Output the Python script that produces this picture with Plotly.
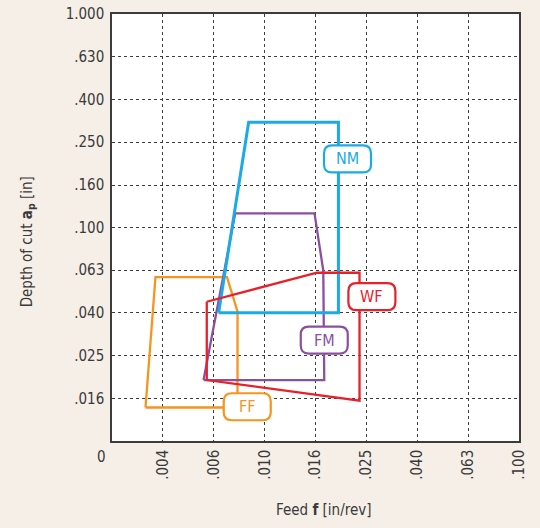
import numpy as np
import plotly.graph_objects as go

# Axis grids (R5 preferred numbers) and the rounded labels printed on them
feed_tick_vals = [0.00398, 0.00631, 0.0100, 0.0158, 0.0251, 0.0398, 0.0631, 0.100]
feed_tick_text = [".004", ".006", ".010", ".016", ".025", ".040", ".063", ".100"]
depth_tick_vals = [0.0158, 0.0251, 0.0398, 0.0631, 0.100, 0.158, 0.251, 0.398, 0.631, 1.0]
depth_tick_text = [".016", ".025", ".040", ".063", ".100", ".160", ".250", ".400", ".630", "1.000"]

# Application areas of the chipbreakers: feed [in/rev] and depth of cut [in]
ff_feed = [0.0034, 0.00372, 0.00711, 0.00782, 0.00782, 0.0034]
ff_depth = [0.01435, 0.0586, 0.0586, 0.0403, 0.01435, 0.01435]

fm_feed = [0.00575, 0.00766, 0.0157, 0.0170, 0.01715, 0.00575]
fm_depth = [0.0193, 0.1165, 0.1165, 0.0628, 0.0193, 0.0193]

nm_feed = [0.00659, 0.00865, 0.0195, 0.0195, 0.00659]
nm_depth = [0.0399, 0.311, 0.311, 0.0399, 0.0399]

wf_feed = [0.00592, 0.01605, 0.0236, 0.0236, 0.00592, 0.00592]
wf_depth = [0.0449, 0.0614, 0.0614, 0.01545, 0.0193, 0.0449]

# Tag for each area: name, colour, label centre (feed, depth)
tag_names = ["FF", "FM", "NM", "WF"]
tag_colors = ["#f7941d", "#8c4f9f", "#1aabe6", "#e8202a"]
tag_feed = [0.00854, 0.01715, 0.02117, 0.0264]
tag_depth = [0.01447, 0.0297, 0.2094, 0.0474]

areas = [
    (ff_feed, ff_depth, 2.3),
    (fm_feed, fm_depth, 2.3),
    (nm_feed, nm_depth, 3.0),
    (wf_feed, wf_depth, 2.3),
]

FONT = "Liberation Sans Narrow, DejaVu Sans Condensed, Arial Narrow, sans-serif"
TEXT = "#3a3a3a"

fig = go.Figure()
for (fx, dy, lw), name, col in zip(areas, tag_names, tag_colors):
    fig.add_trace(go.Scatter(
        x=fx, y=dy, mode="lines", name=name,
        line=dict(color=col, width=lw), hoverinfo="skip", showlegend=False,
    ))


def rounded_box(w, h, r):
    x0, x1, y0, y1 = -w / 2, w / 2, -h / 2, h / 2
    return (f"M {x0 + r},{y0} L {x1 - r},{y0} Q {x1},{y0} {x1},{y0 + r} "
            f"L {x1},{y1 - r} Q {x1},{y1} {x1 - r},{y1} L {x0 + r},{y1} "
            f"Q {x0},{y1} {x0},{y1 - r} L {x0},{y0 + r} Q {x0},{y0} {x0 + r},{y0} Z")


for name, col, fx, dy in zip(tag_names, tag_colors, tag_feed, tag_depth):
    fig.add_shape(
        type="path", xref="x", yref="y",
        xsizemode="pixel", ysizemode="pixel", xanchor=fx, yanchor=dy,
        path=rounded_box(47, 27, 8),
        line=dict(color=col, width=2.2), fillcolor="white", layer="above",
    )
    fig.add_annotation(
        x=np.log10(fx), y=np.log10(dy), xref="x", yref="y", text=name,
        showarrow=False, font=dict(family=FONT, size=16, color=col),
        xanchor="center", yanchor="middle",
    )

# Axis titles and the origin label
fig.add_annotation(
    x=0.519, y=-0.162, xref="paper", yref="paper", showarrow=False,
    text="Feed <b>f</b> [in/rev]", font=dict(family=FONT, size=15, color=TEXT),
    xanchor="center", yanchor="middle",
)
fig.add_annotation(
    x=-0.208, y=0.466, xref="paper", yref="paper", showarrow=False, textangle=-90,
    text="Depth of cut <b>a</b><sub><b>p</b></sub> [in]",
    font=dict(family=FONT, size=15, color=TEXT),
    xanchor="center", yanchor="middle",
)
fig.add_annotation(
    x=-0.0246, y=-0.0375, xref="paper", yref="paper", showarrow=False,
    text="0", font=dict(family=FONT, size=15, color=TEXT),
    xanchor="center", yanchor="middle",
)

axis_common = dict(
    showline=True, mirror=True, linecolor="#3c3c3c", linewidth=1.5,
    showgrid=True, gridcolor="#3c3c3c", gridwidth=1, griddash="dot",
    zeroline=False, ticks="", automargin=False,
    tickfont=dict(family=FONT, size=15, color=TEXT),
)

fig.update_xaxes(
    type="log", range=[np.log10(0.00251), -1.0],
    tickmode="array", tickvals=feed_tick_vals, ticktext=feed_tick_text,
    tickangle=-90, ticklabelstandoff=1, **axis_common,
)
fig.update_yaxes(
    type="log", range=[-2.0, 0.0],
    tickmode="array", tickvals=depth_tick_vals, ticktext=depth_tick_text,
    ticklabelstandoff=3, **axis_common,
)

fig.update_layout(
    width=540, height=528,
    margin=dict(l=112, r=21, t=14, b=87),
    paper_bgcolor="#f6efe8", plot_bgcolor="white",
    showlegend=False,
)

fig.write_html("out.html")
